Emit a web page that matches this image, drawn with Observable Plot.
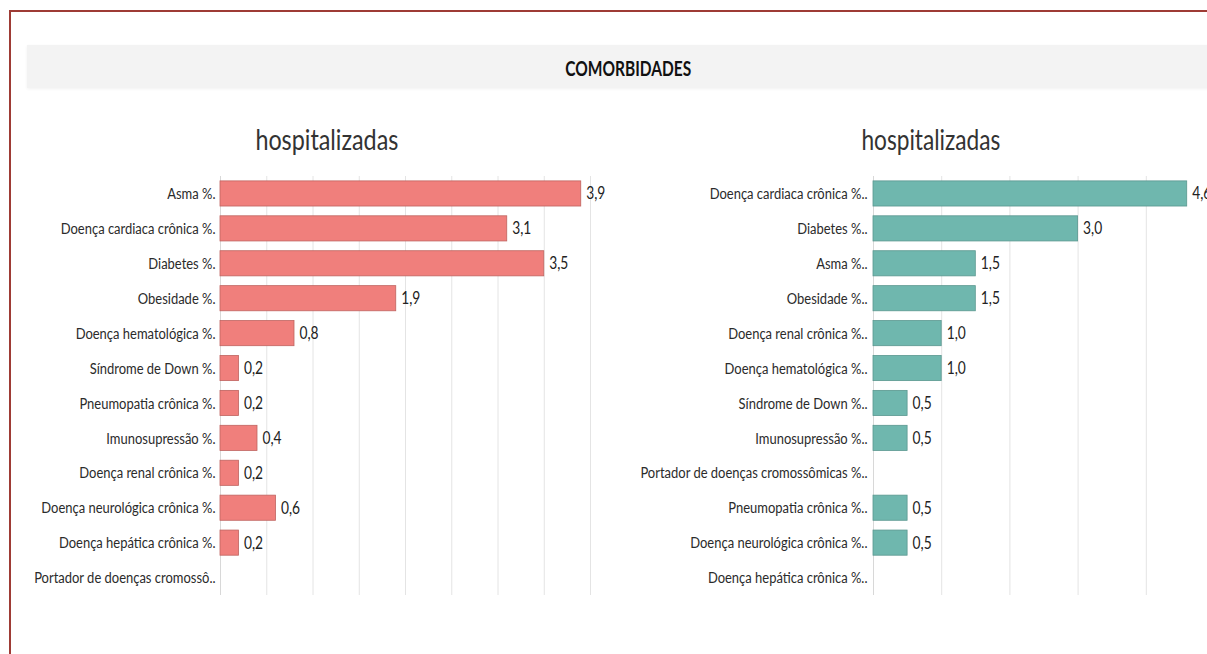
<!DOCTYPE html>
<html>
<head>
<meta charset="utf-8">
<script src="https://cdn.jsdelivr.net/npm/d3@7"></script>
<script src="https://cdn.jsdelivr.net/npm/@observablehq/plot@0.6"></script>
<style>
  html, body { margin: 0; padding: 0; background: #fff; }
  body { width: 1207px; height: 654px; overflow: hidden; position: relative;
         font-family: Lato, "DejaVu Sans Condensed", Roboto, sans-serif; color: #2b2b2b; }
  .border-left { position: absolute; left: 9px; top: 10px; width: 2px; height: 660px; background: #9e3b35; }
  .border-top { position: absolute; left: 9px; top: 10px; width: 1210px; height: 1.5px; background: #9e3b35; }
  .band { position: absolute; left: 27px; top: 45px; width: 1200px; height: 43px; background: #f3f3f3;
          box-shadow: 0 1px 3px rgba(0,0,0,0.06); }
  .header { position: absolute; top: 56px; font-weight: bold; font-size: 20px; color: #111;
            white-space: nowrap; transform-origin: 50% 50%; }
  .title { position: absolute; top: 121px; font-size: 29px; color: #333; white-space: nowrap; transform-origin: 50% 50%; }
  .chart { position: absolute; top: 160px; }
  .chart svg { max-width: none !important; }
</style>
</head>
<body>
<div class="border-left"></div>
<div class="border-top"></div>
<div class="band"></div>
<div class="header" id="hdr">COMORBIDADES</div>
<div class="title" id="t1">hospitalizadas</div>
<div class="title" id="t2">hospitalizadas</div>
<div id="left" class="chart" style="left:0px;width:640px"></div>
<div id="right" class="chart" style="left:630px;width:604px"></div>
<script>
// Left panel
const leftCategories = [
  "Asma %.",
  "Doença cardiaca crônica %.",
  "Diabetes %.",
  "Obesidade %.",
  "Doença hematológica %.",
  "Síndrome de Down %.",
  "Pneumopatia crônica %.",
  "Imunosupressão %.",
  "Doença renal crônica %.",
  "Doença neurológica crônica %.",
  "Doença hepática crônica %.",
  "Portador de doenças cromossô.."
];
const leftValues = [3.9, 3.1, 3.5, 1.9, 0.8, 0.2, 0.2, 0.4, 0.2, 0.6, 0.2, null];
const leftGridTicks = [0.5, 1, 1.5, 2, 2.5, 3, 3.5, 4];

// Right panel
const rightCategories = [
  "Doença cardiaca crônica %..",
  "Diabetes %..",
  "Asma %..",
  "Obesidade %..",
  "Doença renal crônica %..",
  "Doença hematológica %..",
  "Síndrome de Down %..",
  "Imunosupressão %..",
  "Portador de doenças cromossômicas %..",
  "Pneumopatia crônica %..",
  "Doença neurológica crônica %..",
  "Doença hepática crônica %.."
];
const rightValues = [4.6, 3.0, 1.5, 1.5, 1.0, 1.0, 0.5, 0.5, null, 0.5, 0.5, null];
const rightGridTicks = [1, 2, 3, 4, 5];

const fmt = v => d3.format(".1f")(v).replace(".", ",");
const FONT = 'Lato, "DejaVu Sans Condensed", Roboto, sans-serif';

function panel(cats, vals, opts) {
  const data = cats.map((c, i) => ({cat: c, value: vals[i]}));
  const withVal = data.filter(d => d.value != null);
  return Plot.plot({
    width: opts.width,
    height: 440,
    marginLeft: opts.marginLeft,
    marginRight: opts.marginRight,
    marginTop: 16,
    marginBottom: 5,
    style: {fontFamily: FONT, fontSize: "16px", color: "#2b2b2b", background: "transparent", overflow: "visible"},
    x: {domain: opts.xDomain, axis: null},
    y: {domain: cats, paddingInner: 0.28, paddingOuter: 0.14, round: false, label: null},
    marks: [
      Plot.gridX(opts.grid, {stroke: "#e4e4e4", strokeOpacity: 1}),
      Plot.ruleX([0], {stroke: "#d8d8d8"}),
      Plot.axisY({tickSize: 0, tickPadding: opts.pad, label: null, fontSize: 16, fill: "#2b2b2b"}),
      Plot.barX(withVal, {x: "value", y: "cat", fill: opts.fill, stroke: opts.stroke, strokeWidth: 0.8}),
      Plot.text(withVal, {x: "value", y: "cat", text: d => fmt(d.value), textAnchor: "start", dx: 5, fontSize: 17, fill: "#222"})
    ]
  });
}

const leftSvg = panel(leftCategories, leftValues, {
  width: 640, marginLeft: 220, marginRight: 13, xDomain: [0, 4.4], grid: leftGridTicks,
  fill: "#f07f7c", stroke: "#bf6460", pad: 5
});
const rightSvg = panel(rightCategories, rightValues, {
  width: 604, marginLeft: 243, marginRight: 20, xDomain: [0, 5], grid: rightGridTicks,
  fill: "#6fb7ae", stroke: "#5a978f", pad: 6
});
document.getElementById("left").append(leftSvg);
document.getElementById("right").append(rightSvg);

// Narrow the text horizontally to match the condensed face of the original
function squeezeTexts(svg, k) {
  svg.querySelectorAll("text").forEach(t => {
    const T = t.getAttribute("transform") || "";
    const ax = parseFloat(t.getAttribute("x")) || 0;
    t.setAttribute("transform", `${T} translate(${ax},0) scale(${k},1) translate(${-ax},0)`);
  });
}
let k = 0.82;
const sample = Array.from(leftSvg.querySelectorAll("text")).find(t => t.textContent === "Doença cardiaca crônica %.");
if (sample) { const w = sample.getComputedTextLength(); if (w > 0) k = 155 / w; }
squeezeTexts(leftSvg, k);
squeezeTexts(rightSvg, k);

function fitDiv(el, centerX, targetW) {
  const w = el.getBoundingClientRect().width;
  const s = w > 0 ? targetW / w : 1;
  el.style.left = (centerX - w / 2) + "px";
  el.style.transform = `scaleX(${s})`;
}
fitDiv(document.getElementById("hdr"), 628, 126);
fitDiv(document.getElementById("t1"), 327, 143);
fitDiv(document.getElementById("t2"), 931, 139);
</script>
</body>
</html>
